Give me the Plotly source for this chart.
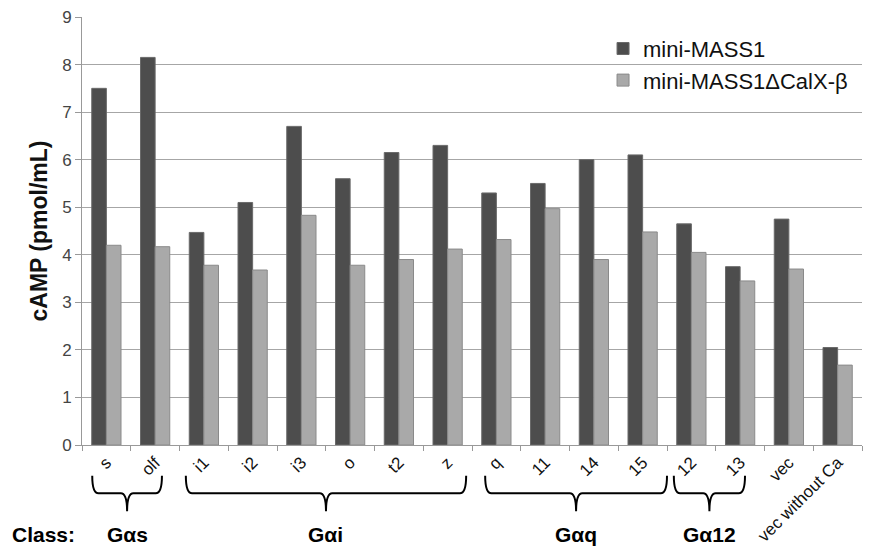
import plotly.graph_objects as go

categories = ["s", "olf", "i1", "i2", "i3", "o", "t2", "z", "q", "11", "14", "15", "12", "13", "vec", "vec without Ca"]
mini_mass1 = [7.5, 8.15, 4.47, 5.1, 6.7, 5.6, 6.15, 6.3, 5.3, 5.5, 6.0, 6.1, 4.65, 3.75, 4.75, 2.05]
mini_mass1_dcalx = [4.2, 4.17, 3.78, 3.68, 4.83, 3.78, 3.9, 4.12, 4.32, 4.97, 3.9, 4.48, 4.05, 3.45, 3.7, 1.68]
series_names = ["mini-MASS1", "mini-MASS1\u0394CalX-\u03b2"]
y_ticks = [0, 1, 2, 3, 4, 5, 6, 7, 8, 9]

class_names = ["G\u03b1s", "G\u03b1i", "G\u03b1q", "G\u03b112"]
class_spans = [(-0.29, 1.14), (1.63, 7.38), (7.77, 11.5), (11.64, 13.1)]

FONT = "Liberation Sans, Arial, sans-serif"
ncat = len(categories)

fig = go.Figure()
fig.add_trace(go.Bar(x=categories, y=mini_mass1, name=series_names[0],
                     marker=dict(color="#4d4d4d", line=dict(color="#6a6a6a", width=1))))
fig.add_trace(go.Bar(x=categories, y=mini_mass1_dcalx, name=series_names[1],
                     marker=dict(color="#a9a9a9", line=dict(color="#8a8a8a", width=1))))

def px(idx):
    return (idx + 0.5) / ncat

y_top, y_h, y_tip = -0.072, -0.113, -0.155
shapes = []
annotations = []
for name, (a, b) in zip(class_names, class_spans):
    x0, x1 = px(a), px(b)
    xc = (x0 + x1) / 2
    d = 0.008
    path = (f"M {x0},{y_top} Q {x0},{y_h} {x0+d},{y_h} L {xc-d},{y_h} "
            f"Q {xc},{y_h} {xc},{y_tip} Q {xc},{y_h} {xc+d},{y_h} "
            f"L {x1-d},{y_h} Q {x1},{y_h} {x1},{y_top}")
    shapes.append(dict(type="path", path=path, xref="paper", yref="paper",
                       line=dict(color="black", width=2)))
    annotations.append(dict(x=xc, y=-0.209, xref="paper", yref="paper", text=f"<b>{name}</b>",
                            showarrow=False, font=dict(size=21, color="black", family=FONT),
                            xanchor="center", yanchor="middle"))
annotations.append(dict(x=-0.049, y=-0.209, xref="paper", yref="paper", text="<b>Class:</b>",
                        showarrow=False, font=dict(size=21, color="black", family=FONT),
                        xanchor="center", yanchor="middle"))

# page body has an 8px margin; size the figure so it fills the 873x554 window
fig.update_layout(
    width=865, height=546,
    margin=dict(l=74, r=11, t=9, b=109),
    paper_bgcolor="white", plot_bgcolor="white",
    barmode="group", bargap=0.4, bargroupgap=0,
    font=dict(family=FONT, color="#222"),
    legend=dict(x=0.668, y=0.975, xanchor="left", yanchor="top",
                font=dict(size=22, color="#111", family=FONT),
                bgcolor="rgba(0,0,0,0)", tracegroupgap=4, itemwidth=30),
    shapes=shapes, annotations=annotations,
    xaxis=dict(type="category", range=[-0.5, ncat - 0.5], tickangle=-45, automargin=False,
               tickson="boundaries", ticks="outside", ticklen=5, tickcolor="#999",
               showline=True, linecolor="#999", linewidth=1, ticklabeloverflow="allow",
               tickfont=dict(size=17, color="#111"), showgrid=False),
    yaxis=dict(range=[0, 9], tickvals=y_ticks, ticks="outside", ticklen=6, tickcolor="#999",
               showline=True, linecolor="#999", linewidth=1, automargin=False,
               ticklabeloverflow="allow",
               showgrid=True, gridcolor="#a6a6a6", gridwidth=1,
               tickfont=dict(size=17, color="#444"),
               title=dict(text="<b>cAMP (pmol/mL)</b>", font=dict(size=23, color="#111"), standoff=8)),
)

fig.write_html("out.html")
